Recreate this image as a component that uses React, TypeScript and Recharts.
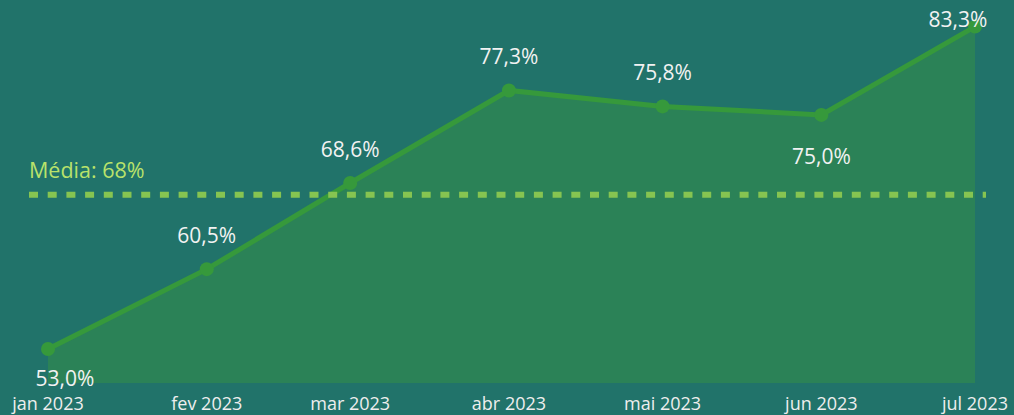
import { AreaChart, Area, XAxis, YAxis, ReferenceLine, LabelList } from 'recharts';

const months = ['2023-01-01', '2023-02-01', '2023-03-01', '2023-04-01', '2023-05-01', '2023-06-01', '2023-07-01'];
const monthLabels = ['jan 2023', 'fev 2023', 'mar 2023', 'abr 2023', 'mai 2023', 'jun 2023', 'jul 2023'];
const values = [53.0, 60.5, 68.6, 77.3, 75.8, 75.0, 83.3];
const media = 67.5;
const mediaLabel = 'Média: 68%';

const DAY = 86400000;
const t0 = Date.parse(months[0]);
const days = months.map((m) => (Date.parse(m) - t0) / DAY);

const data = days.map((d, i) => ({ day: d, value: values[i], label: monthLabels[i] }));

const FONT = '"Open Sans", "Noto Sans", sans-serif';
// labels drawn under the point: index -> distance below
const labelBelow: Record<number, number> = { 0: 29, 5: 41 };

const fmt = (v: number) => v.toFixed(1).replace('.', ',') + '%';

const PointLabel = (props: any) => {
  const { x, y, index, value } = props;
  const below = labelBelow[index];
  let dx = 0;
  if (index === 0) dx = 17;
  if (index === values.length - 1) dx = -17;
  // keep the top label inside the picture
  const ly = below ? y + below : Math.max(y - 34, 19);
  return (
    <text x={x + dx} y={ly} textAnchor="middle" dominantBaseline="central" fill="#f2f2f2" fontSize={21} fontFamily={FONT}>
      {fmt(value)}
    </text>
  );
};

const MonthTick = (props: any) => {
  const { x, y, payload } = props;
  const i = days.indexOf(payload.value);
  return (
    <text x={x} y={y + 12} textAnchor="middle" dominantBaseline="central" fill="#eeeeee" fontSize={18} fontFamily={FONT}>
      {monthLabels[i]}
    </text>
  );
};

const MediaLine = (props: any) => {
  const { x1, x2, y1 } = props;
  return (
    <g>
      <line x1={x1 - 19} x2={x2 + 11} y1={y1} y2={y1} stroke="#86c451" strokeWidth={6} strokeDasharray="9 9.7" />
      <text x={x1 - 19} y={y1 - 25} fill="#b9e26a" fontSize={21.5} fontFamily={FONT} dominantBaseline="central">
        {mediaLabel}
      </text>
    </g>
  );
};

export default function App() {
  return (
    <div style={{ position: 'absolute', left: 0, top: 0, width: 1014, height: 415, background: '#21736a' }}>
      <AreaChart width={1014} height={415} data={data} margin={{ top: 0, right: 39, bottom: 0, left: 48 }}>
        <XAxis
          dataKey="day"
          type="number"
          domain={[days[0], days[days.length - 1]]}
          ticks={days}
          axisLine={false}
          tickLine={false}
          height={32}
          tick={<MonthTick />}
          interval={0}
        />
        <YAxis hide domain={[49.8, 85.8]} />
        <ReferenceLine y={media} shape={<MediaLine />} ifOverflow="visible" />
        <Area
          type="linear"
          dataKey="value"
          stroke="#36993b"
          strokeWidth={5}
          fill="#2b8257"
          fillOpacity={1}
          dot={{ r: 7, fill: '#36993b', stroke: 'none' }}
          activeDot={false}
          isAnimationActive={false}
        >
          <LabelList dataKey="value" content={<PointLabel />} />
        </Area>
      </AreaChart>
    </div>
  );
}
